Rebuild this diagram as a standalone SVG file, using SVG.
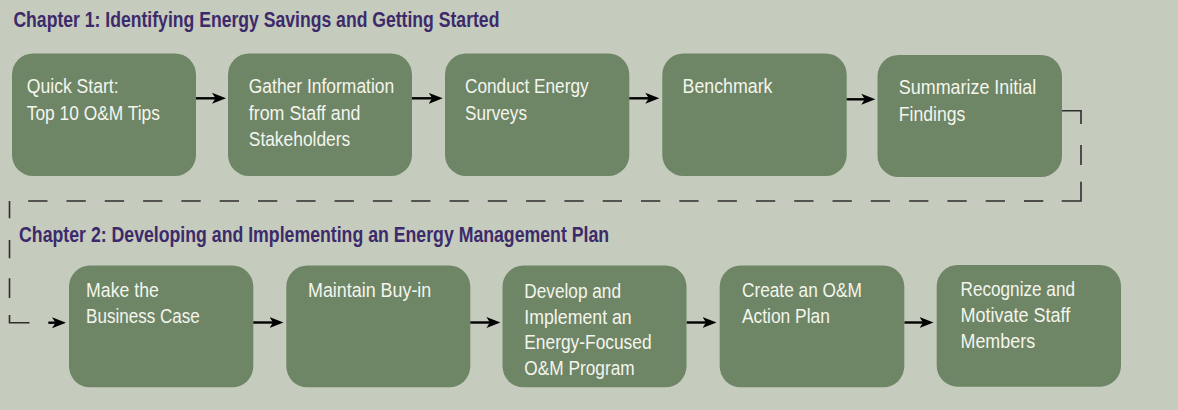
<svg xmlns="http://www.w3.org/2000/svg" width="1178" height="410" viewBox="0 0 1178 410">
<defs>
<style>
.bg{fill:#c5cbbd}
.box{fill:#6e8665}
.t{font-family:"Liberation Sans Narrow","Liberation Sans",Arial,sans-serif;font-size:20.5px;fill:#f4f5ee}
.h{font-family:"Liberation Sans Narrow","Liberation Sans",Arial,sans-serif;font-size:21.5px;font-weight:bold;fill:#3c2a6b}
.arr{stroke:#000;stroke-width:2.4;fill:none}
.dash{stroke:#2e2e2e;stroke-width:1.6;fill:none}
</style>
<marker id="ah" markerUnits="userSpaceOnUse" markerWidth="15" markerHeight="12" refX="7" refY="5.5" orient="auto" viewBox="0 0 15 11">
<path d="M0,0 L14,5.5 L0,11 L3.5,5.5 z" fill="#000"/>
</marker>
</defs>
<rect class="bg" x="0" y="0" width="1178" height="410"/>
<g id="titles">
<text class="h" x="13.4" y="26.7" textLength="486" lengthAdjust="spacingAndGlyphs">Chapter 1: Identifying Energy Savings and Getting Started</text>
<text class="h" x="19.1" y="241.7" textLength="590" lengthAdjust="spacingAndGlyphs">Chapter 2: Developing and Implementing an Energy Management Plan</text>
</g>
<g id="n1">
<rect class="box" x="12" y="53.5" width="184" height="122.5" rx="21"/>
<text class="t" x="26.8" y="93.3" textLength="91.8" lengthAdjust="spacingAndGlyphs">Quick Start:</text>
<text class="t" x="26.8" y="120" textLength="133" lengthAdjust="spacingAndGlyphs">Top 10 O&amp;M Tips</text>
</g>
<g id="n2">
<rect class="box" x="228" y="53.5" width="184" height="122.5" rx="21"/>
<text class="t" x="248.8" y="93.3" textLength="145.4" lengthAdjust="spacingAndGlyphs">Gather Information</text>
<text class="t" x="248.8" y="120" textLength="111.7" lengthAdjust="spacingAndGlyphs">from Staff and</text>
<text class="t" x="248.8" y="145.5" textLength="101.4" lengthAdjust="spacingAndGlyphs">Stakeholders</text>
</g>
<g id="n3">
<rect class="box" x="445" y="53.5" width="184.3" height="122.5" rx="21"/>
<text class="t" x="465" y="93.3" textLength="123.6" lengthAdjust="spacingAndGlyphs">Conduct Energy</text>
<text class="t" x="465" y="120" textLength="62" lengthAdjust="spacingAndGlyphs">Surveys</text>
</g>
<g id="n4">
<rect class="box" x="662.3" y="53.5" width="184.4" height="122.5" rx="21"/>
<text class="t" x="682.6" y="93.3" textLength="89.9" lengthAdjust="spacingAndGlyphs">Benchmark</text>
</g>
<g id="n5">
<rect class="box" x="877.5" y="55" width="184.5" height="122" rx="21"/>
<text class="t" x="898.8" y="94.3" textLength="137.4" lengthAdjust="spacingAndGlyphs">Summarize Initial</text>
<text class="t" x="898.8" y="120.7" textLength="66.6" lengthAdjust="spacingAndGlyphs">Findings</text>
</g>
<g id="n6">
<rect class="box" x="69" y="265.5" width="184.3" height="121.8" rx="21"/>
<text class="t" x="86.1" y="297" textLength="72.7" lengthAdjust="spacingAndGlyphs">Make the</text>
<text class="t" x="86.1" y="323" textLength="113.7" lengthAdjust="spacingAndGlyphs">Business Case</text>
</g>
<g id="n7">
<rect class="box" x="286.3" y="265.5" width="184" height="121.8" rx="21"/>
<text class="t" x="308" y="297" textLength="123.3" lengthAdjust="spacingAndGlyphs">Maintain Buy-in</text>
</g>
<g id="n8">
<rect class="box" x="502.5" y="265.5" width="184" height="121.8" rx="21"/>
<text class="t" x="524.3" y="297.5" textLength="96.7" lengthAdjust="spacingAndGlyphs">Develop and</text>
<text class="t" x="524.3" y="323.5" textLength="107.4" lengthAdjust="spacingAndGlyphs">Implement an</text>
<text class="t" x="524.3" y="349.3" textLength="127.3" lengthAdjust="spacingAndGlyphs">Energy-Focused</text>
<text class="t" x="524.3" y="375" textLength="110.4" lengthAdjust="spacingAndGlyphs">O&amp;M Program</text>
</g>
<g id="n9">
<rect class="box" x="719.7" y="265.5" width="184.6" height="121.8" rx="21"/>
<text class="t" x="741.9" y="297" textLength="120.1" lengthAdjust="spacingAndGlyphs">Create an O&amp;M</text>
<text class="t" x="741.9" y="323" textLength="88" lengthAdjust="spacingAndGlyphs">Action Plan</text>
</g>
<g id="n10">
<rect class="box" x="936.7" y="265" width="184.3" height="121.7" rx="21"/>
<text class="t" x="960.5" y="296" textLength="114.5" lengthAdjust="spacingAndGlyphs">Recognize and</text>
<text class="t" x="960.5" y="322" textLength="109.8" lengthAdjust="spacingAndGlyphs">Motivate Staff</text>
<text class="t" x="960.5" y="348.3" textLength="74.6" lengthAdjust="spacingAndGlyphs">Members</text>
</g>
<g id="connectors">
<line class="arr" x1="196" y1="98.3" x2="219" y2="98.3" marker-end="url(#ah)"/>
<line class="arr" x1="412" y1="98.3" x2="435.7" y2="98.3" marker-end="url(#ah)"/>
<line class="arr" x1="629.3" y1="98.3" x2="652.3" y2="98.3" marker-end="url(#ah)"/>
<line class="arr" x1="846.7" y1="99.3" x2="868.3" y2="99.3" marker-end="url(#ah)"/>
<line class="arr" x1="253.3" y1="322.5" x2="276.5" y2="322.5" marker-end="url(#ah)"/>
<line class="arr" x1="470.3" y1="322.5" x2="493.4" y2="322.5" marker-end="url(#ah)"/>
<line class="arr" x1="686.7" y1="322.5" x2="709.5" y2="322.5" marker-end="url(#ah)"/>
<line class="arr" x1="904.5" y1="322.5" x2="926.5" y2="322.5" marker-end="url(#ah)"/>
<path class="dash" d="M1062,110.7 H1081 V201 H1061.7" stroke-dasharray="32.3 21 20 16.7 40"/>
<path class="dash" d="M1043.3,201 H9.5" stroke-dasharray="19.3 19"/>
<path class="dash" d="M9.5,201 V322.7 H29.5" stroke-dasharray="17.3 21.7 18.3 20 19.7 17 28 100"/>
<line class="arr" x1="48.3" y1="322.7" x2="59" y2="322.7" stroke-width="1.8" marker-end="url(#ah)"/>
</g>
</svg>
